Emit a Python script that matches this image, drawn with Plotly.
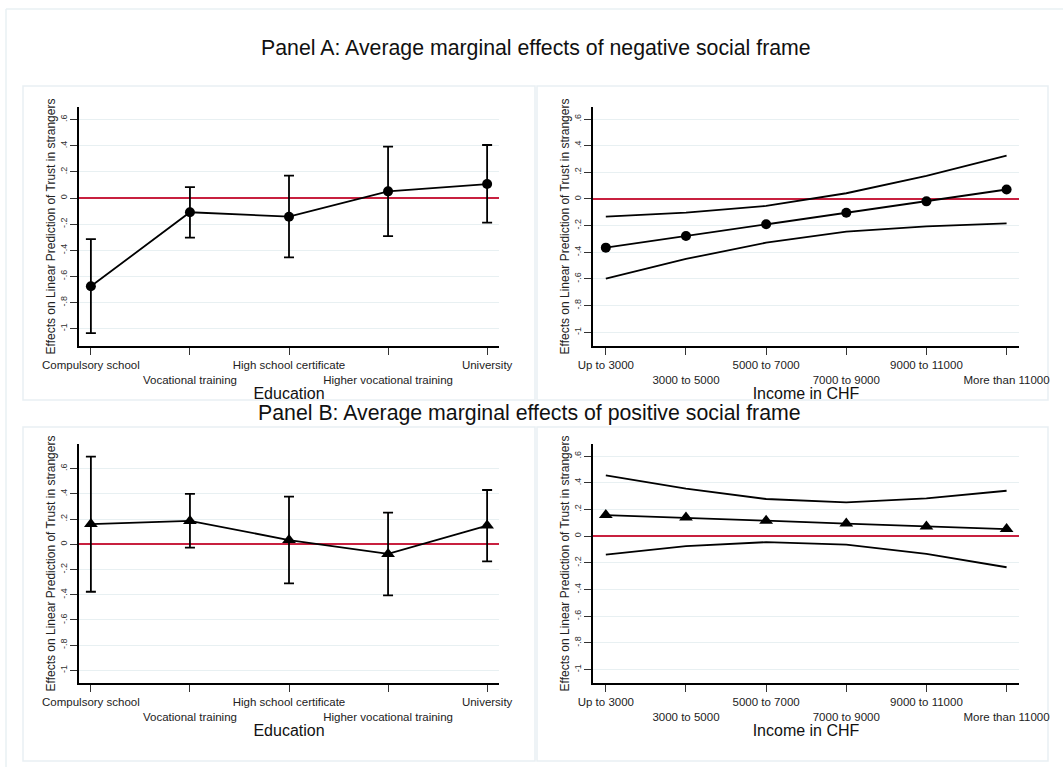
import plotly.graph_objects as go

# Category labels
edu_labels = ["Compulsory school", "Vocational training", "High school certificate",
              "Higher vocational training", "University"]
inc_labels = ["Up to 3000", "3000 to 5000", "5000 to 7000", "7000 to 9000",
              "9000 to 11000", "More than 11000"]

# Panel A: negative social frame
neg_edu_est = [-0.676, -0.109, -0.143, 0.051, 0.107]
neg_edu_lo = [-1.034, -0.303, -0.454, -0.291, -0.188]
neg_edu_hi = [-0.314, 0.084, 0.171, 0.394, 0.406]

neg_inc_est = [-0.365, -0.278, -0.190, -0.103, -0.018, 0.071]
neg_inc_lo = [-0.598, -0.450, -0.328, -0.245, -0.205, -0.183]
neg_inc_hi = [-0.132, -0.103, -0.052, 0.043, 0.173, 0.325]

# Panel B: positive social frame
pos_edu_est = [0.161, 0.186, 0.034, -0.076, 0.149]
pos_edu_lo = [-0.376, -0.026, -0.310, -0.405, -0.135]
pos_edu_hi = [0.696, 0.400, 0.378, 0.251, 0.431]

pos_inc_est = [0.158, 0.139, 0.116, 0.094, 0.073, 0.053]
pos_inc_lo = [-0.138, -0.075, -0.045, -0.063, -0.133, -0.233]
pos_inc_hi = [0.455, 0.355, 0.278, 0.253, 0.283, 0.340]

y_tickvals = [-1, -0.8, -0.6, -0.4, -0.2, 0, 0.2, 0.4, 0.6]
y_ticktext = ["-1", "-.8", "-.6", "-.4", "-.2", "0", ".2", ".4", ".6"]

W, H = 1063, 767
FONT = "Liberation Sans, Arial, sans-serif"
RED = "#c8203f"
GRID = "#e8f0f2"
FRAME = "#e9f0f3"


def xdom(a, b):
    return [a / W, b / W]


def ydom(top, bottom):
    return [1 - bottom / H, 1 - top / H]


def staggered(labels):
    return [lab if i % 2 == 0 else "<br>" + lab for i, lab in enumerate(labels)]


fig = go.Figure()


def add_errorbar_panel(est, lo, hi, xa, ya, symbol):
    x = list(range(len(est)))
    fig.add_trace(go.Scatter(
        x=x, y=est, xaxis=xa, yaxis=ya, mode="lines+markers",
        line=dict(color="black", width=1.8),
        marker=dict(symbol=symbol, size=10 if symbol == "circle" else 12, color="black"),
        error_y=dict(type="data", symmetric=False,
                     array=[h - e for h, e in zip(hi, est)],
                     arrayminus=[e - l for e, l in zip(est, lo)],
                     color="black", thickness=1.8, width=5),
        showlegend=False, hoverinfo="skip"))


def add_band_panel(est, lo, hi, xa, ya, symbol):
    x = list(range(len(est)))
    for band in (hi, lo):
        fig.add_trace(go.Scatter(
            x=x, y=band, xaxis=xa, yaxis=ya, mode="lines",
            line=dict(color="black", width=1.8),
            showlegend=False, hoverinfo="skip"))
    fig.add_trace(go.Scatter(
        x=x, y=est, xaxis=xa, yaxis=ya, mode="lines+markers",
        line=dict(color="black", width=1.8),
        marker=dict(symbol=symbol, size=10 if symbol == "circle" else 12, color="black"),
        showlegend=False, hoverinfo="skip"))


add_errorbar_panel(neg_edu_est, neg_edu_lo, neg_edu_hi, "x", "y", "circle")
add_band_panel(neg_inc_est, neg_inc_lo, neg_inc_hi, "x2", "y2", "circle")
add_errorbar_panel(pos_edu_est, pos_edu_lo, pos_edu_hi, "x3", "y3", "triangle-up")
add_band_panel(pos_inc_est, pos_inc_lo, pos_inc_hi, "x4", "y4", "triangle-up")

ytitle = "Effects on Linear Prediction of Trust in strangers"


def xaxis_cfg(dom, labels, title, rng, anchor):
    return dict(domain=dom, range=rng, anchor=anchor, tickmode="array",
                tickvals=list(range(len(labels))), ticktext=staggered(labels),
                tickangle=0, automargin=False,
                showline=True, linecolor="black", linewidth=1.5,
                ticks="outside", ticklen=7, tickwidth=1.3, tickcolor="#333",
                tickfont=dict(family=FONT, size=11.5, color="#222"),
                showgrid=False, zeroline=False,
                title=dict(text=title, font=dict(family=FONT, size=16, color="#111"), standoff=2))


def yaxis_cfg(dom, anchor, rng):
    return dict(domain=dom, range=rng, anchor=anchor, tickmode="array",
                tickvals=y_tickvals, ticktext=y_ticktext, tickangle=-90, automargin=False,
                showline=True, linecolor="black", linewidth=1.5,
                ticks="outside", ticklen=7, tickwidth=1.3, tickcolor="#333",
                tickfont=dict(family=FONT, size=9, color="#333"),
                showgrid=True, gridcolor=GRID, gridwidth=1.2,
                zeroline=True, zerolinecolor=RED, zerolinewidth=2,
                title=dict(text=ytitle, font=dict(family=FONT, size=12, color="#222"), standoff=0))


fig.update_layout(
    width=W, height=H, margin=dict(l=0, r=0, t=0, b=0, autoexpand=False),
    paper_bgcolor="white", plot_bgcolor="white",
    xaxis=xaxis_cfg(xdom(79, 499), edu_labels, "Education", [-0.12, 4.12], "y"),
    yaxis=yaxis_cfg(ydom(107, 346), "x", [-1.133, 0.697]),
    xaxis2=xaxis_cfg(xdom(593, 1019), inc_labels, "Income in CHF", [-0.16, 5.155], "y2"),
    yaxis2=yaxis_cfg(ydom(107, 346), "x2", [-1.103, 0.69]),
    xaxis3=xaxis_cfg(xdom(79, 499), edu_labels, "Education", [-0.12, 4.12], "y3"),
    yaxis3=yaxis_cfg(ydom(444, 683), "x3", [-1.10, 0.796]),
    xaxis4=xaxis_cfg(xdom(593, 1019), inc_labels, "Income in CHF", [-0.16, 5.155], "y4"),
    yaxis4=yaxis_cfg(ydom(444, 683), "x4", [-1.10, 0.69]),
)


def box(x0, y0, x1, y1):
    return dict(type="rect", xref="paper", yref="paper",
                x0=x0 / W, x1=x1 / W, y0=1 - y1 / H, y1=1 - y0 / H,
                line=dict(color=FRAME, width=1.5), fillcolor="rgba(0,0,0,0)", layer="below")


def pline(x0, y0, x1, y1):
    return dict(type="line", xref="paper", yref="paper",
                x0=x0 / W, x1=x1 / W, y0=1 - y0 / H, y1=1 - y1 / H,
                line=dict(color=FRAME, width=1.5), layer="below")


shapes = [
    pline(6, 9, 1063, 9),
    pline(6, 9, 6, 767),
    box(23, 86, 535, 400),
    box(537, 86, 1048, 400),
    box(23, 427, 535, 761),
    box(537, 427, 1048, 761),
]
fig.update_layout(shapes=shapes)

fig.add_annotation(text="Panel A: Average marginal effects of negative social frame",
                   xref="paper", yref="paper", x=536 / W, y=1 - 48 / H, showarrow=False,
                   font=dict(family=FONT, size=21.3, color="#111"), xanchor="center", yanchor="middle")
fig.add_annotation(text="Panel B: Average marginal effects of positive social frame",
                   xref="paper", yref="paper", x=529 / W, y=1 - 413 / H, showarrow=False,
                   font=dict(family=FONT, size=21.3, color="#111"), xanchor="center", yanchor="middle")

fig.write_html("out.html")
